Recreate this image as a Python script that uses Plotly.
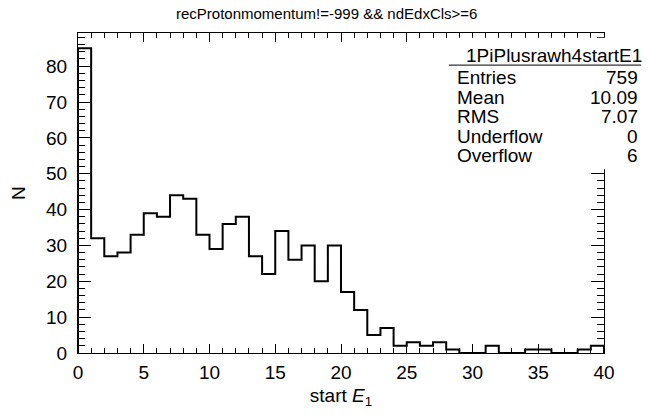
import numpy as np
import plotly.graph_objects as go

# ---- data ----
bin_edges_lo = 0
bin_width = 1
counts = [85, 32, 27, 28, 33, 39, 38, 44, 43, 33,
          29, 36, 38, 27, 22, 34, 26, 30, 20, 30,
          17, 12, 5, 7, 2, 3, 2, 3, 1, 0,
          0, 2, 0, 0, 1, 1, 0, 0, 1, 2]
title_text = "recProtonmomentum!=-999 && ndEdxCls>=6"
hist_name = "1PiPlusrawh4startE1"
stat_labels = ["Entries", "Mean", "RMS", "Underflow", "Overflow"]
stat_values = ["759", "10.09", "7.07", "0", "6"]
x_title = "start <i>E</i><sub>1</sub>"
y_title = "N"

# ---- step outline from bin edges ----
n = len(counts)
edges = bin_edges_lo + bin_width * np.arange(n + 1)
xs = np.concatenate([[edges[0]], edges[:-1], [edges[-1], edges[-1]]])
ys = np.concatenate([[0], counts, [counts[-1], 0]])

FONT = "Liberation Sans, Arial, Helvetica, sans-serif"

fig = go.Figure()
fig.add_trace(go.Scatter(x=xs, y=ys, mode="lines", line_shape="hv",
                         line=dict(color="black", width=2), hoverinfo="skip",
                         showlegend=False))

W, H = 647, 414
L, R, T, B = 78, 604, 33, 362
pw, ph = R - L, B - T

def px_x(p):
    return (p - L) / pw

def px_y(p):
    return (B - p) / ph

ymax = max(counts) * 1.05

fig.update_layout(
    width=W, height=H,
    margin=dict(l=L, r=W - R, t=T, b=H - B, pad=0),
    paper_bgcolor="white", plot_bgcolor="white",
    font=dict(family=FONT, color="black", size=19),
    showlegend=False,
    xaxis=dict(range=[edges[0], edges[-1]], dtick=5, tick0=0,
               showgrid=False, zeroline=False,
               showline=True, linecolor="black", linewidth=1, mirror="ticks",
               ticks="inside", ticklen=9, tickcolor="black", tickwidth=1,
               minor=dict(dtick=1, ticks="inside", ticklen=5, tickcolor="black", showgrid=False),
               tickfont=dict(size=19), ticklabelstandoff=2,
               title=dict(text=x_title, font=dict(size=19), standoff=6)),
    yaxis=dict(range=[0, ymax], dtick=10, tick0=0,
               showgrid=False, zeroline=False,
               showline=True, linecolor="black", linewidth=1, mirror="ticks",
               ticks="inside", ticklen=13, tickcolor="black", tickwidth=1,
               minor=dict(dtick=2, ticks="inside", ticklen=7, tickcolor="black", showgrid=False),
               tickfont=dict(size=19), ticklabelstandoff=6,
               title=dict(text=y_title, font=dict(size=19), standoff=15)),
)

# title
fig.add_annotation(text=title_text, xref="paper", yref="paper",
                   x=px_x(326), y=px_y(13), xanchor="center", yanchor="middle",
                   showarrow=False, font=dict(size=15, family=FONT))

# stats box
bx0, bx1, by0, by1 = 449, 645, 38, 173
fig.add_shape(type="rect", xref="paper", yref="paper",
              x0=px_x(bx0), x1=px_x(bx1), y0=px_y(by1), y1=px_y(by0),
              fillcolor="white", line=dict(width=0), layer="above")
fig.add_shape(type="line", xref="paper", yref="paper",
              x0=px_x(bx0), x1=px_x(641), y0=px_y(66), y1=px_y(66),
              line=dict(color="black", width=1), layer="above")
fig.add_annotation(text=hist_name, xref="paper", yref="paper",
                   x=px_x(554), y=px_y(56), xanchor="center", yanchor="middle",
                   showarrow=False, font=dict(size=19, family=FONT))
row_y0, row_dy = 79, 20
for i, (lab, val) in enumerate(zip(stat_labels, stat_values)):
    yy = px_y(row_y0 + i * row_dy)
    fig.add_annotation(text=lab, xref="paper", yref="paper", x=px_x(455), y=yy,
                       xanchor="left", yanchor="middle", showarrow=False,
                       font=dict(size=19, family=FONT))
    fig.add_annotation(text=val, xref="paper", yref="paper", x=px_x(640), y=yy,
                       xanchor="right", yanchor="middle", showarrow=False,
                       font=dict(size=19, family=FONT))

fig.write_html("out.html")
